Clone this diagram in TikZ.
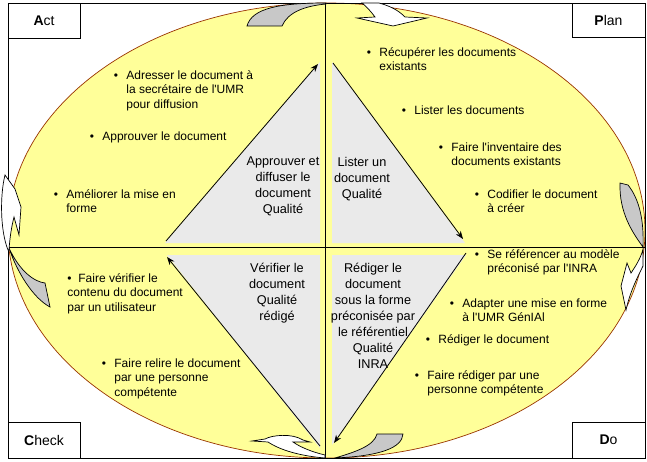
\documentclass[tikz,border=0pt]{standalone}
\usepackage{fontspec}
\setmainfont{Liberation Sans}
\usetikzlibrary{arrows.meta}

\definecolor{cyclefill}{RGB}{255,255,153}
\definecolor{cycleline}{RGB}{153,51,0}
\definecolor{stepgray}{RGB}{234,234,234}
\definecolor{tailgray}{RGB}{200,200,200}

\newcommand\tp{\rule{0pt}{11pt}}
\newcommand\bul{\llap{\textbullet\hspace{8.4pt}}}
\newcommand\q{\textquotesingle}

\begin{document}
\begin{tikzpicture}[
  x=1pt, y=-1pt,
  >={Stealth[length=8pt,width=6pt]},
  line width=0.8pt,
  task/.style={anchor=north west, inner sep=0pt, align=left,
    font=\fontsize{12}{14.5}\selectfont},
  phase/.style={anchor=north, inner sep=0pt, align=center,
    font=\fontsize{12.7}{16}\selectfont},
  corner/.style={draw, fill=white, inner sep=0pt,
    font=\fontsize{14}{16}\selectfont},
  tail/.style={draw, fill=tailgray, line width=0.7pt},
  head/.style={draw, fill=white, line width=0.7pt}
]
  \useasboundingbox[fill=white] (0,0) rectangle (647,462);

  % the cycle
  \draw[cycleline, fill=cyclefill, line width=0.7pt]
    (326.5,230.5) ellipse [x radius=318.5, y radius=227.5];

  % grey steps in each quarter
  \fill[stepgray] (165,243) -- (320,62) -- (320,243) -- cycle;
  \fill[stepgray] (332,62) -- (465,243) -- (332,243) -- cycle;
  \fill[stepgray] (332,255) -- (466,255) -- (332,445) -- cycle;
  \fill[stepgray] (167,255) -- (320,255) -- (320,448) -- cycle;

  \draw (325,3) -- (325,458);
  \draw (8,247) -- (645,247);
  \draw (8,3) rectangle (645,458);

  \node[corner, minimum width=72pt, minimum height=35pt] (act) at (44,20.5) {\textbf{A}ct};
  \node[corner, minimum width=73pt, minimum height=34pt] (plan) at (608.5,20) {\textbf{P}lan};
  \node[corner, minimum width=72pt, minimum height=36pt] (check) at (44,440) {\textbf{C}heck};
  \node[corner, minimum width=73pt, minimum height=36pt] (do) at (608.5,440) {\textbf{D}o};

  % arrows round the diamond
  \coordinate (actA) at (166,241);
  \coordinate (actB) at (318,64);
  \coordinate (planA) at (333,63);
  \coordinate (planB) at (463,239);
  \coordinate (doA) at (466,253);
  \coordinate (doB) at (334,443);
  \coordinate (checkA) at (320,446);
  \coordinate (checkB) at (167,257);
  \draw[->] (actA) -- (actB);
  \draw[->] (planA) -- (planB);
  \draw[->] (doA) -- (doB);
  \draw[->] (checkA) -- (checkB);

  % curved arrows on the rim
  \draw[tail] (247,26) -- (282,26) .. controls (288,12) and (305,6) .. (326,4)
    -- (326,3) .. controls (280,3) and (252,8) .. (247,26) -- cycle;
  \draw[head] (362,3) .. controls (368,8) and (372,13) .. (375,17) -- (357,18)
    -- (393,26) -- (427,18) -- (405,17) .. controls (398,10) and (390,6) .. (379,3) -- cycle;
  \draw[tail] (620,183) -- (628,185) .. controls (640,200) and (644,222) .. (643,247)
    .. controls (632,232) and (619,212) .. (620,183) -- cycle;
  \draw[head] (643,249) .. controls (641,258) and (635,267) .. (631,273) -- (627,263)
    -- (621,286) -- (626,310) .. controls (630,292) and (637,278) .. (643,266) -- cycle;
  \draw[tail] (377,434) -- (403,434) .. controls (402,448) and (380,456) .. (335,458)
    .. controls (355,452) and (374,446) .. (377,434) -- cycle;
  \draw[head] (252,441) -- (265,439) .. controls (272,435) and (292,433) .. (303,440)
    -- (310,442) -- (293,442) .. controls (300,447) and (312,452) .. (325,455)
    -- (325,458) .. controls (300,456) and (280,450) .. (268,442) -- cycle;
  \draw[tail] (9,248) .. controls (17,272) and (33,298) .. (50,307) -- (45,283)
    .. controls (35,282) and (20,272) .. (9,248) -- cycle;
  \draw[head] (9,250) .. controls (10,235) and (12,225) .. (14,217) -- (19,235)
    -- (21,207) -- (15,189) -- (5,175) .. controls (0,195) and (0,230) .. (8,250) -- cycle;

  % Act
  \node[task] (adresser) at (126,68) {\tp\bul Adresser le document à\\la secrétaire de l\q UMR\\pour diffusion};
  \node[task] (approuver) at (102,129) {\tp\bul Approuver le document};
  \node[task] (ameliorer) at (66,187) {\tp\bul Améliorer la mise en\\forme};
  \node[phase] (diffuser) at (283,154) {\tp Approuver et\\diffuser le\\document\\Qualité};

  % Plan
  \node[task] (recuperer) at (379,45) {\tp\bul Récupérer les documents\\existants};
  \node[task] (lister) at (414,103) {\tp\bul Lister les documents};
  \node[task] (inventaire) at (451,140) {\tp\bul Faire l\q inventaire des\\documents existants};
  \node[task] (codifier) at (487,187) {\tp\bul Codifier le document\\à créer};
  \node[phase] (listerdoc) at (362,155) {\tp Lister un\\document\\Qualité};

  % Check
  \node[task] (verifier) at (67,271) {\tp\makebox[11pt][l]{\textbullet}Faire vérifier le\\contenu du document\\par un utilisateur};
  \node[task] (relire) at (114,356) {\tp\bul Faire relire le document\\par une personne\\compétente};
  \node[phase] (verifdoc) at (277,261) {\tp Vérifier le\\document\\Qualité\\rédigé};

  % Do
  \node[task] (referencer) at (487,247) {\tp\bul Se référencer au modèle\\préconisé par l\q INRA};
  \node[task] (adapter) at (462,296) {\tp\bul Adapter une mise en forme\\à l\q UMR GénIAl};
  \node[task] (rediger) at (438,332) {\tp\bul Rédiger le document};
  \node[task] (fairerediger) at (427,368) {\tp\bul Faire rédiger par une\\personne compétente};
  \node[phase] (redigdoc) at (373,261) {\tp Rédiger le\\document\\sous la forme\\préconisée par\\le référentiel\\Qualité\\INRA};
\end{tikzpicture}
\end{document}
